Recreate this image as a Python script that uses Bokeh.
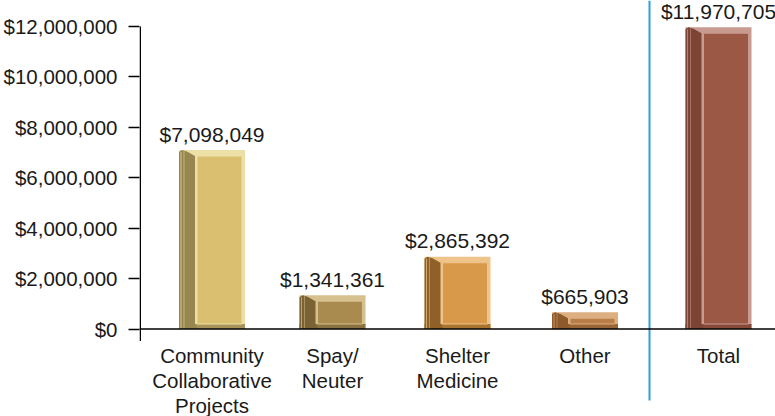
from bokeh.plotting import figure
from bokeh.models import Range1d, FixedTicker, NumeralTickFormatter, Span
from bokeh.core.properties import value
from bokeh.embed import file_html
from bokeh.resources import INLINE

# ---- data ----
categories = ["Community\nCollaborative\nProjects", "Spay/\nNeuter", "Shelter\nMedicine", "Other", "Total"]
amounts = [7098049, 1341361, 2865392, 665903, 11970705]
y_ticks = [0, 2000000, 4000000, 6000000, 8000000, 10000000, 12000000]

# ---- styles ----
face_colors = ["#d9bf6f", "#a98b50", "#d9994a", "#b97d48", "#9a5845"]
side_colors = ["#978650", "#7a6234", "#8f6128", "#8e5a2b", "#7b4434"]
light_colors = ["#ede0a6", "#d6c08e", "#efc48a", "#dcae80", "#c99a8f"]
dark_colors = ["#a8935a", "#8a7140", "#a8742f", "#9a6535", "#874a3a"]
FONT = "Liberation Sans"

# ---- layout ----
W, H = 775, 416
AXIS_X = 139
FRAME_W = W - AXIS_X
ZERO_PX = 328.5
TOP_TICK_PX = 26
k = 12e6 / (ZERO_PX - TOP_TICK_PX)          # data units per pixel
y_hi = 12e6 + TOP_TICK_PX * k
y_lo = -(H - ZERO_PX) * k
slot_x = [72.5, 193, 318, 445.5, 579]         # bar centres, px right of the axis
bar_w = 66
side_w = 16
divider_x = 510

p = figure(width=W, height=H, output_backend="svg", toolbar_location=None,
           x_range=Range1d(0, FRAME_W), y_range=Range1d(y_lo, y_hi),
           min_border_left=AXIS_X, min_border_right=0, min_border_top=0, min_border_bottom=0)
p.outline_line_color = None
p.xgrid.visible = False
p.ygrid.visible = False
p.xaxis.visible = False

ya = p.yaxis[0]
ya.ticker = FixedTicker(ticks=y_ticks)
ya.formatter = NumeralTickFormatter(format="$0,0")
ya.axis_line_color = None
ya.major_tick_out = 11
ya.major_tick_in = 0
ya.major_tick_line_color = "black"
ya.major_tick_line_width = 1.5
ya.minor_tick_line_color = None
ya.major_label_text_font = FONT
ya.major_label_text_font_size = "20.5px"
ya.major_label_text_color = "#1a1a1a"
ya.major_label_standoff = 11

# bars
left = [c - bar_w / 2 for c in slot_x]
right = [c + bar_w / 2 for c in slot_x]
p.quad(left=left, right=right, bottom=0, top=amounts, color=light_colors, line_color=None)
p.quad(left=left, right=right, bottom=0, top=[min(5 * k, v) for v in amounts],
       color=dark_colors, line_color=None)
side_xs, side_ys = [], []
for l, v in zip(left, amounts):
    side_xs.append([l, l, l + 3, l + side_w * 0.5, l + side_w, l + side_w, l + side_w + 3])
    side_ys.append([0, v - 2 * k, v, v - 1.5 * k, v - 6 * k, 5 * k, 0])
p.patches(xs=side_xs, ys=side_ys, color=side_colors, line_color=None)
p.segment(x0=[l + 2 for l in left], y0=0, x1=[l + 2 for l in left], y1=[v - 2 * k for v in amounts],
          line_color=light_colors, line_width=1, line_alpha=0.7)
p.segment(x0=[l + 5 for l in left], y0=0, x1=[l + 5 for l in left], y1=[v - 1 * k for v in amounts],
          line_color=light_colors, line_width=1, line_alpha=0.5)
p.quad(left=[l + side_w + 2 for l in left], right=[r - 3 for r in right],
       bottom=5 * k, top=[max(v - 6 * k, 6 * k) for v in amounts],
       fill_color=face_colors, line_color=light_colors, line_width=1)

# baseline and axis line
p.add_layout(Span(location=0, dimension="width", line_color="black", line_width=1.5))
p.segment(x0=[0.75], y0=[-12 * k], x1=[0.75], y1=[12e6], line_color="black", line_width=1.5)

# divider
p.segment(x0=[divider_x], y0=[y_hi], x1=[divider_x], y1=[-(400 - ZERO_PX) * k],
          line_color="#2a9fd8", line_width=2)

# value labels
p.text(x=slot_x, y=amounts, text=[f"${v:,}" for v in amounts], y_offset=-16,
       text_align="center", text_baseline="middle", text_font=value(FONT),
       text_font_size="21px", text_color="#1a1a1a")

# category labels
p.text(x=slot_x, y=[0] * len(slot_x), text=categories, y_offset=14.5,
       text_align="center", text_baseline="top", text_font=value(FONT),
       text_font_size="20.5px", text_color="#1a1a1a", text_line_height=1.1)

open("out.html", "w").write(file_html(p, INLINE))
